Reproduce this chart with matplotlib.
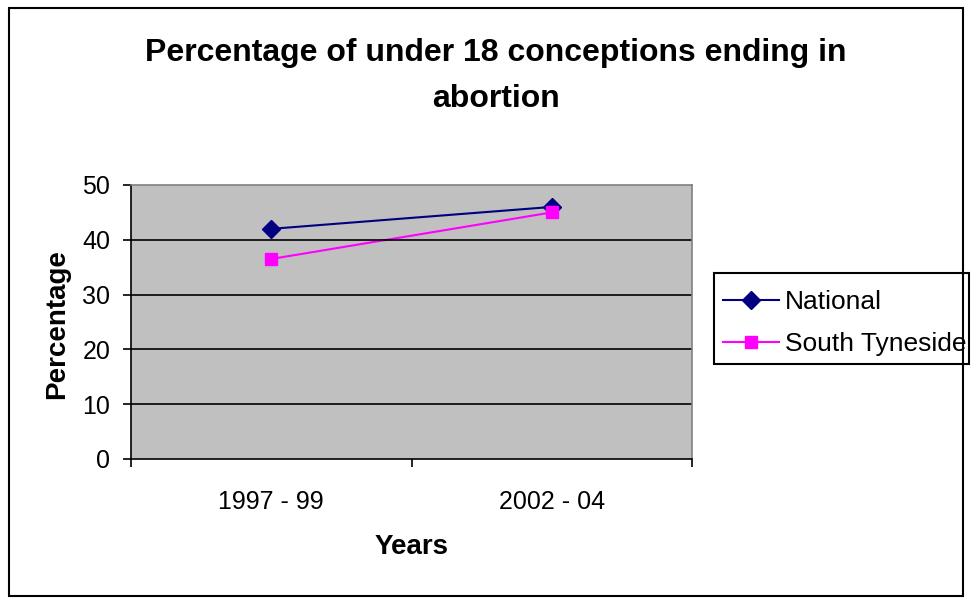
import matplotlib
matplotlib.use('Agg')
import matplotlib.pyplot as plt
from matplotlib.patches import Rectangle

categories = ['1997 - 99', '2002 - 04']
national = [42, 46]
south_tyneside = [36.5, 45]

plt.rcParams['font.family'] = ['Liberation Sans', 'DejaVu Sans']

fig = plt.figure(figsize=(9.73, 6.06), dpi=100)
# outer chart border
fig.patches.append(Rectangle((9/973, 1-596/606), (963-9)/973, (596-8)/606,
                             transform=fig.transFigure, fill=False,
                             edgecolor='black', linewidth=1.5))
# legend box (excel style, tight on the right)
fig.patches.append(Rectangle((714/973, 1-364/606), (969-714)/973, (364-273)/606,
                             transform=fig.transFigure, fill=False,
                             edgecolor='black', linewidth=1.5))

ax = fig.add_axes([131/973, 1-459/606, (692-131)/973, (459-185)/606])
ax.set_facecolor('#C0C0C0')

x = [i + 0.5 for i in range(len(categories))]
ax.plot(x, national, color='#000080', marker='D', markersize=9, linewidth=1.5, label='National')
ax.plot(x, south_tyneside, color='#FF00FF', marker='s', markersize=9, linewidth=1.5, label='South Tyneside')

ax.set_xlim(0, 2)
ax.set_ylim(0, 50)
ax.set_yticks(range(0, 51, 10))
for y in range(10, 50, 10):
    ax.axhline(y, color='black', linewidth=1.2)

ax.set_xticks([0, 1, 2])
ax.set_xticklabels([])
ax.set_xticks(x, minor=True)
ax.set_xticklabels(categories, minor=True)
ax.tick_params(axis='x', which='minor', length=0, pad=22, labelsize=18)
ax.tick_params(axis='x', which='major', direction='out', length=6, width=1.2)
ax.tick_params(axis='y', direction='out', length=6, width=1.2, labelsize=18, pad=9)

for s in ['top', 'right']:
    ax.spines[s].set_color('gray')
    ax.spines[s].set_linewidth(1.2)
for s in ['left', 'bottom']:
    ax.spines[s].set_linewidth(1.2)

fig.text(57/973, 1-324/606, 'Percentage', rotation=90, ha='center', va='center',
         fontsize=20, fontweight='bold')
fig.text(412/973, 1-547/606, 'Years', ha='center', va='center',
         fontsize=20, fontweight='bold')

fig.text(496/973, 1-76/606, 'Percentage of under 18 conceptions ending in\nabortion',
         ha='center', va='center', fontsize=23, fontweight='bold', linespacing=1.72)

leg = fig.legend(loc='center left', bbox_to_anchor=(711/973, 1-323/606),
                 fontsize=19, frameon=False,
                 borderpad=0.47, handlelength=2.1, labelspacing=0.67, handletextpad=0.22,
                 borderaxespad=0)

fig.savefig('out.png', dpi=100)
